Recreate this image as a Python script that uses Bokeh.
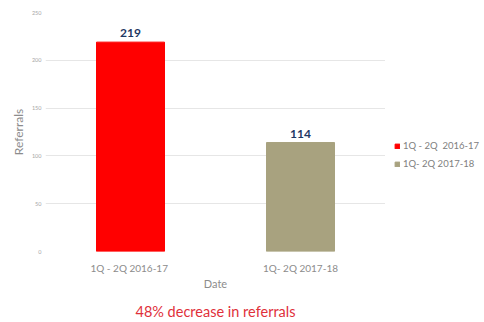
import numpy as np
from bokeh.plotting import figure
from bokeh.layouts import row
from bokeh.models import Range1d, FixedTicker, Legend, LegendItem, LinearAxis, ColumnDataSource
from bokeh.core.properties import value
from bokeh.embed import file_html
from bokeh.resources import INLINE

categories = ["1Q - 2Q  2016-17", "1Q- 2Q 2017-18"]
referrals = [219, 114]
bar_colors = ["#FF0000", "#A8A27F"]
y_ticks = [0, 50, 100, 150, 200, 250]
caption = "48% decrease in referrals"

FONT = "Lato"

xpos = np.arange(len(categories)) + 0.5
src = ColumnDataSource(dict(x=xpos, val=referrals, color=bar_colors,
                            lab=[str(v) for v in referrals]))

p = figure(width=385, height=322, x_range=Range1d(0, len(categories)),
           y_range=Range1d(0, 250), output_backend="svg", toolbar_location=None,
           min_border_left=45, min_border_right=0, min_border_top=12, min_border_bottom=0)
p.outline_line_color = None
p.background_fill_color = "white"
p.border_fill_color = "white"
p.xgrid.grid_line_color = None
p.ygrid.grid_line_color = "#E6E6E6"
p.ygrid.ticker = FixedTicker(ticks=y_ticks)

r = p.vbar(x="x", top="val", width=0.4, color="color", source=src)
p.text(x="x", y="val", text="lab", source=src, text_align="center", text_baseline="bottom",
       y_offset=-5, text_font=value(FONT), text_font_style="bold", text_font_size="12px",
       text_color="#1F3864")

p.yaxis.ticker = FixedTicker(ticks=y_ticks)
p.yaxis.axis_line_color = None
p.yaxis.major_tick_line_color = None
p.yaxis.major_tick_out = 0
p.yaxis.major_tick_in = 0
p.yaxis.minor_tick_line_color = None
p.yaxis.major_label_standoff = 4
p.yaxis.major_label_text_font = FONT
p.yaxis.major_label_text_font_size = "5.5px"
p.yaxis.major_label_text_color = "#A6A6A6"
p.yaxis.axis_label = "Referrals"
p.yaxis.axis_label_text_font = FONT
p.yaxis.axis_label_text_font_style = "normal"
p.yaxis.axis_label_text_font_size = "12px"
p.yaxis.axis_label_text_color = "#8C8C8C"
p.yaxis.axis_label_standoff = 3

xa = p.xaxis[0]
xa.ticker = FixedTicker(ticks=list(xpos))
xa.major_label_overrides = {float(x): c for x, c in zip(xpos, categories)}
xa.axis_line_color = None
xa.major_tick_line_color = None
xa.major_tick_out = 0
xa.major_tick_in = 0
xa.minor_tick_line_color = None
xa.major_label_text_font = FONT
xa.major_label_text_font_size = "10px"
xa.major_label_text_color = "#8C8C8C"
xa.major_label_standoff = 10
xa.axis_label = "Date"
xa.axis_label_text_font = FONT
xa.axis_label_text_font_style = "normal"
xa.axis_label_text_font_size = "11px"
xa.axis_label_text_color = "#8C8C8C"
xa.axis_label_standoff = 0

cap = LinearAxis(ticker=FixedTicker(ticks=[]), axis_label=caption,
                 axis_line_color=None, major_tick_line_color=None, minor_tick_line_color=None,
                 major_tick_out=0, major_tick_in=0, minor_tick_out=0,
                 axis_label_standoff=10, axis_label_text_font=FONT,
                 axis_label_text_font_style="normal", axis_label_text_font_size="14.5px",
                 axis_label_text_color="#E0303A")
p.add_layout(cap, "below")

# legend panel on the right
p2 = figure(width=99, height=322, x_range=Range1d(0, 1), y_range=Range1d(0, 1),
            output_backend="svg", toolbar_location=None,
            min_border_left=0, min_border_right=0, min_border_top=0, min_border_bottom=0)
p2.outline_line_color = None
p2.axis.visible = False
p2.grid.grid_line_color = None
p2.border_fill_color = "white"
r2 = p2.vbar(x="x", top="val", width=0.4, color="color", source=src, visible=False)

legend = Legend(items=[LegendItem(label=c, renderers=[r2], index=i) for i, c in enumerate(categories)],
                location=(9, 80))
legend.border_line_color = None
legend.background_fill_alpha = 0
legend.label_text_font = FONT
legend.label_text_font_size = "9.5px"
legend.label_text_color = "#808080"
legend.glyph_width = 6
legend.glyph_height = 6
legend.label_height = 15
legend.spacing = 3
legend.label_standoff = 3
legend.padding = 2
legend.margin = 0
p2.add_layout(legend, "center")

layout = row(p, p2)
open("out.html", "w").write(file_html(layout, INLINE))
